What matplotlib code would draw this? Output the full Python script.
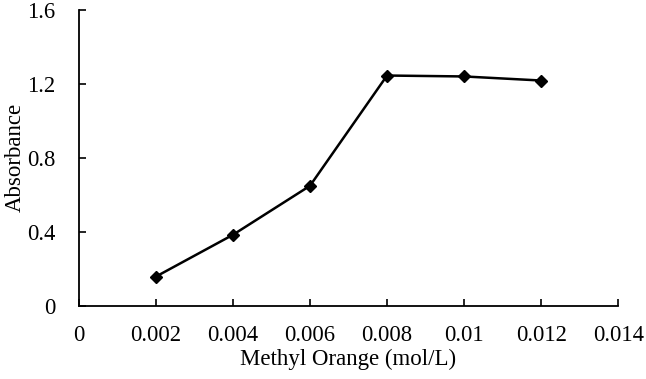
import matplotlib
matplotlib.use("Agg")
import matplotlib.pyplot as plt

conc = [0.002, 0.004, 0.006, 0.008, 0.010, 0.012]
absorbance = [0.158, 0.384, 0.649, 1.245, 1.240, 1.218]
xticks = [0, 0.002, 0.004, 0.006, 0.008, 0.010, 0.012, 0.014]
xlabels = ["0", "0.002", "0.004", "0.006", "0.008", "0.01", "0.012", "0.014"]
yticks = [0, 0.4, 0.8, 1.2, 1.6]
ylabels = ["0", "0.4", "0.8", "1.2", "1.6"]

plt.rcParams['font.family'] = ['Liberation Serif', 'DejaVu Serif']

fig = plt.figure(figsize=(6.46, 3.79), dpi=100)
ax = fig.add_axes([0.122, 0.193, 0.835, 0.781])

ax.plot(conc, absorbance, color='black', lw=1.8, marker='D', markersize=6.5)

ax.set_xlim(0, 0.014)
ax.set_ylim(0, 1.6)
ax.set_xticks(xticks)
ax.set_xticklabels(xlabels)
ax.set_yticks(yticks)
ax.set_yticklabels(ylabels)
ax.tick_params(direction='in', length=5, width=1.2, labelsize=16.3)
ax.tick_params(axis='x', pad=14)
ax.tick_params(axis='y', pad=17)
ax.spines['top'].set_visible(False)
ax.spines['right'].set_visible(False)
ax.spines['left'].set_linewidth(1.3)
ax.spines['bottom'].set_linewidth(1.3)
ax.set_xlabel("Methyl Orange (mol/L)", fontsize=16.5, labelpad=2)
ax.set_ylabel("Absorbance", fontsize=16.5)
ax.yaxis.set_label_coords(-0.098, 0.5)

fig.savefig("out.png", dpi=100)
